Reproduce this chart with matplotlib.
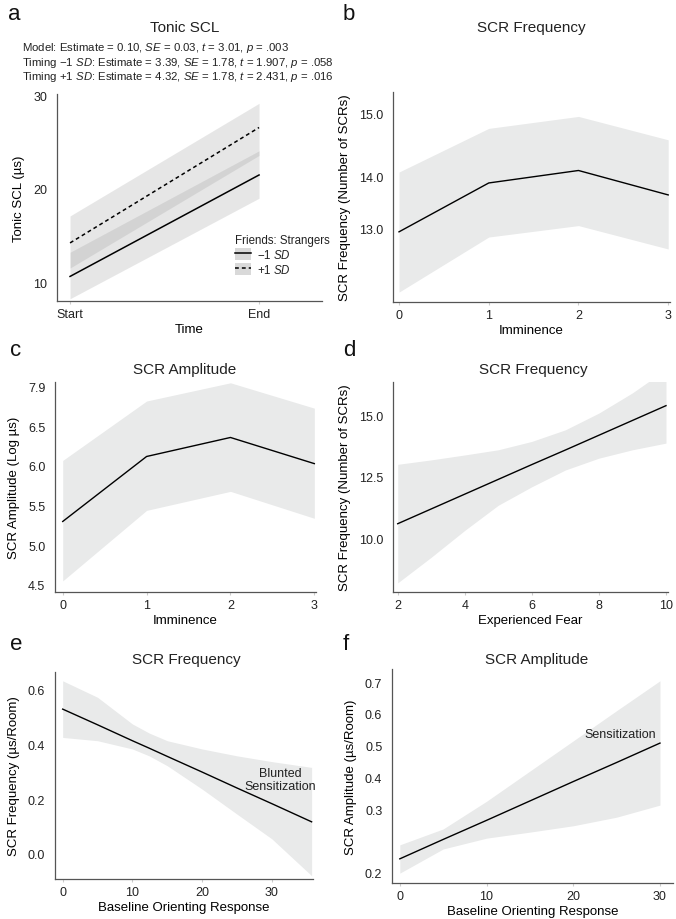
import matplotlib
matplotlib.use("Agg")
import matplotlib.pyplot as plt
from matplotlib.patches import Patch
from matplotlib.lines import Line2D

plt.rcParams['font.family'] = ['Liberation Sans', 'DejaVu Sans']
plt.rcParams['mathtext.fontset'] = 'custom'
plt.rcParams['mathtext.rm'] = 'Liberation Sans'
plt.rcParams['mathtext.it'] = 'Liberation Sans:italic'
plt.rcParams['text.color'] = '#222222'

# ---- data ----
# a: Tonic SCL by time, friends:strangers -1 SD / +1 SD
a_x = [0, 1]
a_xlabels = ['Start', 'End']
a_lo_mean = [10.6, 21.5]
a_lo_low = [8.2, 19.0]
a_lo_high = [13.2, 24.1]
a_hi_mean = [14.2, 26.6]
a_hi_low = [11.5, 23.6]
a_hi_high = [17.1, 29.2]
a_ticks = [10, 20, 30]

# b: SCR frequency by imminence
b_x = [0, 1, 2, 3]
b_mean = [12.93, 13.87, 14.11, 13.64]
b_low = [11.77, 12.83, 13.05, 12.60]
b_high = [14.08, 14.92, 15.15, 14.70]
b_ticks = [13.0, 14.0, 15.2]
b_ticklabels = ['13.0', '14.0', '15.0']

# c: SCR amplitude by imminence
c_x = [0, 1, 2, 3]
c_mean = [5.30, 6.12, 6.36, 6.03]
c_low = [4.55, 5.44, 5.68, 5.34]
c_high = [6.07, 6.82, 7.05, 6.73]
c_ticks = [4.5, 5.0, 5.5, 6.0, 6.5, 7.0]
c_ticklabels = ['4.5', '5.0', '5.5', '6.0', '6.5', '7.9']

# d: SCR frequency by experienced fear
d_x = [2, 3, 4, 5, 6, 7, 8, 9, 10]
d_mean = [10.59, 11.19, 11.79, 12.39, 12.99, 13.58, 14.18, 14.78, 15.38]
d_low = [8.19, 9.23, 10.32, 11.34, 12.09, 12.77, 13.25, 13.59, 13.86]
d_high = [13.0, 13.18, 13.38, 13.59, 13.93, 14.40, 15.08, 15.90, 16.85]
d_ticks = [10.0, 12.5, 15.0]

# e: SCR frequency by baseline orienting response
e_x = [0, 5, 10, 12.4, 15, 20, 25, 30, 35.7]
e_mean = [0.527, 0.470, 0.412, 0.385, 0.355, 0.298, 0.240, 0.183, 0.117]
e_low = [0.424, 0.412, 0.382, 0.357, 0.321, 0.236, 0.145, 0.055, -0.079]
e_high = [0.630, 0.570, 0.473, 0.440, 0.412, 0.382, 0.357, 0.336, 0.315]
e_ticks = [0.0, 0.2, 0.4, 0.6]

# f: SCR amplitude by baseline orienting response
f_x = [0, 5, 10, 15, 20, 25, 30]
f_mean = [0.144, 0.205, 0.265, 0.326, 0.387, 0.447, 0.508]
f_low = [0.099, 0.175, 0.209, 0.228, 0.248, 0.275, 0.313]
f_high = [0.188, 0.238, 0.325, 0.420, 0.515, 0.610, 0.704]
f_ticks = [0.1, 0.3, 0.4, 0.5, 0.6, 0.7]
f_ticklabels = ['0.2', '0.3', '0.4', '0.5', '0.6', '0.7']

W, H = 676, 920
BAND = '#e9eaea'
fig = plt.figure(figsize=(W / 100, H / 100), dpi=100)


def box(l, t, r, b):
    return [l / W, 1 - b / H, (r - l) / W, (b - t) / H]


def style(ax):
    for s in ['top', 'right']:
        ax.spines[s].set_visible(False)
    for s in ['left', 'bottom']:
        ax.spines[s].set_color('#555555')
        ax.spines[s].set_linewidth(0.9)
    ax.tick_params(axis='y', length=0, pad=7, labelsize=9, labelcolor='#222222')
    ax.tick_params(axis='x', length=2, color='#cccccc', pad=3, labelsize=9, labelcolor='#222222')


def ftext(x, y, s, **kw):
    fig.text(x / W, 1 - y / H, s, **kw)


# ---- panel a ----
ax = fig.add_axes(box(57, 95, 322, 302))
style(ax)
ax.fill_between(a_x, a_lo_low, a_lo_high, color='#9a9a9a', alpha=0.24, lw=0)
ax.fill_between(a_x, a_hi_low, a_hi_high, color='#9a9a9a', alpha=0.24, lw=0)
ax.plot(a_x, a_lo_mean, color='black', lw=1.1)
ax.plot(a_x, a_hi_mean, color='black', lw=1.1, ls=(0, (2.5, 2)))
ax.set_xlim(-0.069, 1.333)
ax.set_ylim(7.96, 30.2)
ax.set_yticks(a_ticks)
ax.set_xticks(a_x)
ax.set_xticklabels(a_xlabels)
ax.set_xlabel('Time', fontsize=9.5, labelpad=2)
ax.set_ylabel('Tonic SCL (µs)', fontsize=9.5, labelpad=6)
handles = [(Patch(color='#d9d9d9', lw=0), Line2D([], [], color='black', lw=1.1)),
           (Patch(color='#d9d9d9', lw=0), Line2D([], [], color='black', lw=1.1, ls=(0, (2.5, 2))))]
leg = ax.legend(handles, ['−1 $\\mathit{SD}$', '+1 $\\mathit{SD}$'], title='Friends: Strangers',
                loc='upper left', bbox_to_anchor=(0.655, 0.345), frameon=False,
                fontsize=8.3, title_fontsize=8.3, handlelength=1.4, handleheight=1.3,
                handletextpad=0.5, labelspacing=0.15, alignment='left', borderaxespad=0)
ftext(185, 28, 'Tonic SCL', ha='center', va='center', fontsize=11)
ftext(22, 48, 'Model: Estimate = 0.10, $\\mathit{SE}$ = 0.03, $\\mathit{t}$ = 3.01, $\\mathit{p}$ = .003',
      ha='left', va='center', fontsize=8.2)
ftext(22, 62.5, 'Timing −1 $\\mathit{SD}$: Estimate = 3.39, $\\mathit{SE}$ = 1.78, $\\mathit{t}$ = 1.907, $\\mathit{p}$ = .058',
      ha='left', va='center', fontsize=8.2)
ftext(22, 77.5, 'Timing +1 $\\mathit{SD}$: Estimate = 4.32, $\\mathit{SE}$ = 1.78, $\\mathit{t}$ = 2.431, $\\mathit{p}$ = .016',
      ha='left', va='center', fontsize=8.2)

# ---- panel b ----
ax = fig.add_axes(box(393, 93, 670, 303))
style(ax)
ax.fill_between(b_x, b_low, b_high, color=BAND, lw=0)
ax.plot(b_x, b_mean, color='black', lw=1)
ax.set_xlim(-0.067, 3.02)
ax.set_ylim(11.58, 15.62)
ax.set_yticks(b_ticks)
ax.set_yticklabels(b_ticklabels)
ax.set_xticks(b_x)
ax.set_xlabel('Imminence', fontsize=9.5, labelpad=2)
ax.set_ylabel('SCR Frequency (Number of SCRs)', fontsize=9.5, labelpad=6)
ftext(531, 28, 'SCR Frequency', ha='center', va='center', fontsize=11)

# ---- panel c ----
ax = fig.add_axes(box(55, 383, 316, 593))
style(ax)
ax.fill_between(c_x, c_low, c_high, color=BAND, lw=0)
ax.plot(c_x, c_mean, color='black', lw=1)
ax.set_xlim(-0.092, 3.02)
ax.set_ylim(4.41, 7.06)
ax.set_yticks(c_ticks)
ax.set_yticklabels(c_ticklabels)
ax.set_xticks(c_x)
ax.set_xlabel('Imminence', fontsize=9.5, labelpad=2)
ax.set_ylabel('SCR Amplitude (Log µs)', fontsize=9.5, labelpad=6)
ftext(185, 370, 'SCR Amplitude', ha='center', va='center', fontsize=11)

# ---- panel d ----
ax = fig.add_axes(box(393, 383, 668, 593))
style(ax)
ax.fill_between(d_x, d_low, d_high, color=BAND, lw=0)
ax.plot(d_x, d_mean, color='black', lw=1)
ax.set_xlim(1.86, 10.06)
ax.set_ylim(7.82, 16.34)
ax.set_yticks(d_ticks)
ax.set_yticklabels(['10.0', '12.5', '15.0'])
ax.set_xticks([2, 4, 6, 8, 10])
ax.set_xlabel('Experienced Fear', fontsize=9.5, labelpad=2)
ax.set_ylabel('SCR Frequency (Number of SCRs)', fontsize=9.5, labelpad=6)
ftext(533, 370, 'SCR Frequency', ha='center', va='center', fontsize=11)

# ---- panel e ----
ax = fig.add_axes(box(55, 673, 313, 880))
style(ax)
ax.fill_between(e_x, e_low, e_high, color=BAND, lw=0)
ax.plot(e_x, e_mean, color='black', lw=1)
ax.set_xlim(-1.1, 35.9)
ax.set_ylim(-0.091, 0.662)
ax.set_yticks(e_ticks)
ax.set_yticklabels(['0.0', '0.2', '0.4', '0.6'])
ax.set_xticks([0, 10, 20, 30])
ax.set_xlabel('Baseline Orienting Response', fontsize=9.5, labelpad=2)
ax.set_ylabel('SCR Frequency (µs/Room)', fontsize=9.5, labelpad=6)
ax.text(31.2, 0.27, 'Blunted\nSensitization', ha='center', va='center', fontsize=9,
        linespacing=1.1)
ftext(186, 660, 'SCR Frequency', ha='center', va='center', fontsize=11)

# ---- panel f ----
ax = fig.add_axes(box(392, 670, 673, 884))
style(ax)
ax.fill_between(f_x, f_low, f_high, color=BAND, lw=0)
ax.plot(f_x, f_mean, color='black', lw=1)
ax.set_xlim(-0.9, 31.5)
ax.set_ylim(0.068, 0.741)
ax.set_yticks(f_ticks)
ax.set_yticklabels(f_ticklabels)
ax.set_xticks([0, 10, 20, 30])
ax.set_xlabel('Baseline Orienting Response', fontsize=9.5, labelpad=2)
ax.set_ylabel('SCR Amplitude (µs/Room)', fontsize=9.5, labelpad=6)
ax.text(25.4, 0.537, 'Sensitization', ha='center', va='center', fontsize=9)
ftext(537, 660, 'SCR Amplitude', ha='center', va='center', fontsize=11)

# panel letters
for lab, x, y in [('a', 8, 14), ('b', 343, 14), ('c', 10, 350), ('d', 343, 350),
                  ('e', 10, 645), ('f', 343, 645)]:
    ftext(x, y, lab, ha='left', va='center', fontsize=16, color='#111111')

fig.savefig('out.png', dpi=100)
